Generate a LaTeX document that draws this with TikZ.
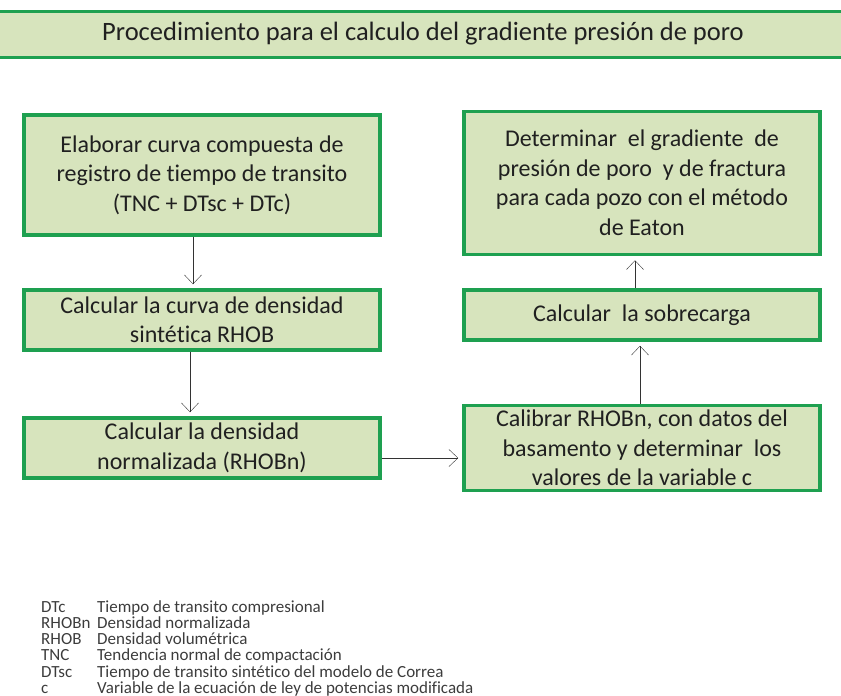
\documentclass[tikz,border=0pt]{standalone}
\usepackage{fontspec}
\setmainfont{Carlito}[Ligatures=NoCommon]
\usetikzlibrary{arrows.meta, positioning}
\definecolor{boxfill}{RGB}{215,228,189}
\definecolor{boxline}{RGB}{30,160,80}
\definecolor{txtgray}{RGB}{32,32,32}
\definecolor{keygray}{RGB}{60,60,60}

\tikzset{
  stepbox/.style={draw=boxline, line width=3.5pt, fill=boxfill, text=txtgray,
    align=center, font=\fontsize{24}{29.5}\selectfont, minimum width=356pt, inner sep=0pt},
  flow/.style={-{Straight Barb[length=9pt,width=17pt]}, thin, black!80, shorten >=4pt},
  keytext/.style={text=keygray, font=\fontsize{17}{18}\selectfont, anchor=base west, inner sep=0pt},
}

\begin{document}
\begin{tikzpicture}[x=1pt, y=1pt]
  \useasboundingbox (0,0) rectangle (841,-696);

  % title band
  \node[draw=boxline, line width=3pt, fill=boxfill, minimum width=900pt, minimum height=46pt,
        font=\fontsize{26.5}{30}\selectfont, text=txtgray] (title) at (423,-34)
        {Procedimiento para el calculo del gradiente presión de poro};

  % left column
  \node[stepbox, minimum height=120pt] (curva) at (202,-175)
    {Elaborar curva compuesta de\\registro de tiempo de transito\\(TNC + DTsc + DTc)};
  \node[stepbox, minimum height=60pt] (sintetica) at (202,-320)
    {Calcular la curva de densidad\\sintética RHOB};
  \node[stepbox, minimum height=60pt] (normal) at (202,-448)
    {Calcular la densidad\\normalizada (RHOBn)};

  % right column
  \node[stepbox, minimum height=85pt] (calibrar) at (642,-448)
    {Calibrar RHOBn, con datos del\\basamento y determinar~ los\\valores de la variable c};
  \node[stepbox, minimum height=50pt] (sobrecarga) at (642,-315)
    {Calcular~ la sobrecarga};
  \node[stepbox, minimum height=143pt] (eaton) at (642,-183)
    {Determinar~ el gradiente~ de\\presión de poro~ y de fractura\\para cada pozo con el método\\de Eaton};

  \draw[flow] ([xshift=-9pt]curva.south) -- ([xshift=-9pt]sintetica.north);
  \draw[flow] ([xshift=-12pt]sintetica.south) -- ([xshift=-12pt]normal.north);
  \draw[flow] ([yshift=-10pt]normal.east) -- ([yshift=-10pt]calibrar.west);
  \draw[flow] ([xshift=-2pt]calibrar.north) -- ([xshift=-2pt]sobrecarga.south);
  \draw[flow] ([xshift=-7pt]sobrecarga.north) -- ([xshift=-7pt]eaton.south);

  % legend
  \foreach \abbr/\desc [count=\i] in {DTc/Tiempo de transito compresional,
      RHOBn/Densidad normalizada, RHOB/Densidad volumétrica,
      TNC/Tendencia normal de compactación,
      DTsc/Tiempo de transito sintético del modelo de Correa,
      c/Variable de la ecuación de ley de potencias modificada}{
    \node[keytext] (abbr\i) at (41,-596-16.2*\i) {\abbr};
    \node[keytext] (desc\i) at (97,-596-16.2*\i) {\desc};
  }
\end{tikzpicture}
\end{document}
